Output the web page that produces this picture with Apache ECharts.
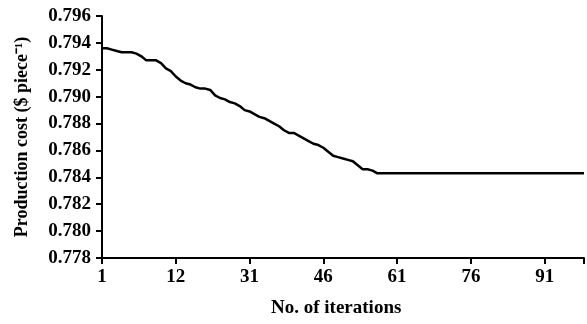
<!DOCTYPE html>
<html>
<head>
<meta charset="utf-8">
<script src="https://cdn.jsdelivr.net/npm/echarts@6/dist/echarts.min.js"></script>
<style>
html,body{margin:0;padding:0;background:#fff;}
#c{width:587px;height:324px;}
</style>
</head>
<body>
<div id="c"></div>
<script>
// Data
const iterations = [1,2,3,4,5,6,7,8,9,10,11,12,13,14,15,16,17,18,19,20,21,22,23,24,25,26,27,28,29,30,31,32,33,34,35,36,37,38,39,40,41,42,43,44,45,46,47,48,49,50,51,52,53,54,55,56,57,58,61,76,91,99];
const costs = [0.7936,0.7936,0.7935,0.7934,0.7933,0.7933,0.7933,0.7932,0.7930,0.7927,0.7927,0.7927,0.7925,0.7921,0.7919,0.7915,0.7912,0.7910,0.7909,0.7907,0.7906,0.7906,0.7905,0.7901,0.7899,0.7898,0.7896,0.7895,0.7893,0.7890,0.7889,0.7887,0.7885,0.7884,0.7882,0.7880,0.7878,0.7875,0.7873,0.7873,0.7871,0.7869,0.7867,0.7865,0.7864,0.7862,0.7859,0.7856,0.7855,0.7854,0.7853,0.7852,0.7849,0.7846,0.7846,0.7845,0.7843,0.7843,0.7843,0.7843,0.7843,0.7843];
const xTickLabels = ["1","12","31","46","61","76","91"];
const yTitle = "Production cost ($ piece\u207B\u00B9)";
const xTitle = "No. of iterations";

const font = "Liberation Serif";
const chart = echarts.init(document.getElementById('c'));
chart.setOption({
  animation: false,
  backgroundColor: '#fff',
  grid: {left: 102, top: 16, right: 0, bottom: 66, containLabel: false},
  xAxis: {
    type: 'value', min: 0, max: 98, interval: 15,
    axisLine: {show: true, lineStyle: {color: '#000', width: 2}},
    axisTick: {show: true, length: 6, lineStyle: {color: '#000', width: 2}},
    splitLine: {show: false},
    axisLabel: {
      color: '#000', fontFamily: font, fontWeight: 'bold', fontSize: 19, margin: 10,
      formatter: function (v) { const i = Math.round(v / 15); return (v % 15 === 0 && i < xTickLabels.length) ? xTickLabels[i] : ''; }
    }
  },
  yAxis: {
    type: 'value', min: 0.778, max: 0.796, interval: 0.002,
    name: yTitle, nameLocation: 'middle', nameGap: 71, nameRotate: 90,
    nameTextStyle: {color: '#000', fontFamily: font, fontWeight: 'bold', fontSize: 18},
    axisLine: {show: true, lineStyle: {color: '#000', width: 2}},
    axisTick: {show: true, length: 6, lineStyle: {color: '#000', width: 2}},
    splitLine: {show: false},
    axisLabel: {
      color: '#000', fontFamily: font, fontWeight: 'bold', fontSize: 19, margin: 11,
      formatter: function (v) { return v.toFixed(3); }
    }
  },
  graphic: [{
    type: 'text', left: 271, top: 299,
    style: {text: xTitle, fill: '#000', font: 'bold 19px "Liberation Serif"'}
  }],
  series: [{
    type: 'line',
    data: iterations.map((it, k) => [it - 1, costs[k]]),
    showSymbol: false,
    lineStyle: {color: '#000', width: 2.5},
    smooth: false
  }]
});
</script>
</body>
</html>
